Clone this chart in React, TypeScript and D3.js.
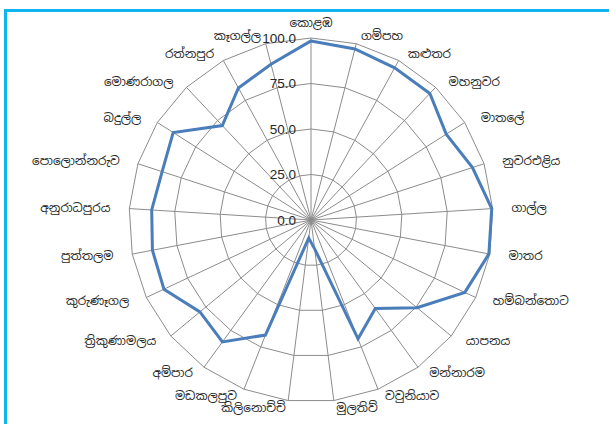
import React from 'react';
import * as d3 from 'd3';

const categories = ['කොළඹ','ගම්පහ','කළුතර','මහනුවර','මාතලේ','නුවරඑළිය','ගාල්ල','මාතර','හම්බන්තොට','යාපනය','මන්නාරම','වවුනියාව','මුලතිව්','කිලිනොච්චි','මඩකලපුව','අම්පාර','ත්‍රිකුණාමලය','කුරුණෑගල','පුත්තලම','අනුරාධපුරය','පොලොන්නරුව','බදුල්ල','මොණරාගල','රත්නපුර','කෑගල්ල'];
const values = [98.4,97,95.4,95.4,88,93.3,99.5,99.5,93.4,75.6,60.1,70.2,16,10,68,82.8,79.2,89.3,88.7,87.7,86,89.7,71.2,82.8,88.4];
const ticks = [0,25,50,75,100];
const tickLabels = ['0.0','25.0','50.0','75.0','100.0'];

const W = 609, H = 424;
const cx = 311, cy = 220, R = 182;

export default function App() {
  const n = categories.length;
  const angle = d3.scaleLinear().domain([0, n]).range([0, 2 * Math.PI]);
  const r = d3.scaleLinear().domain([0, 100]).range([0, R]);

  const ringPath = (v: number) =>
    d3.lineRadial<number>()
      .angle((_, i) => angle(i))
      .radius(() => r(v))
      .curve(d3.curveLinearClosed)(categories.map((_, i) => i)) || '';

  const dataPath = d3.lineRadial<number>()
    .angle((_, i) => angle(i))
    .radius(d => r(d))
    .curve(d3.curveLinearClosed)(values) || '';

  return (
    <svg width={W} height={H} style={{ position: 'absolute', left: 0, top: 0, background: '#fff' }}>
      <rect x={0} y={0} width={W} height={H} fill="#fff" />
      <line x1={4} y1={10.5} x2={W} y2={10.5} stroke="#0fb4f0" strokeWidth={3} />
      <line x1={5.5} y1={9} x2={5.5} y2={H} stroke="#0fb4f0" strokeWidth={3} />
      <g transform={`translate(${cx},${cy})`}>
        {ticks.filter(t => t > 0).map(t => (
          <path key={t} d={ringPath(t)} fill="none" stroke="#8c8c8c" strokeWidth={1} />
        ))}
        {categories.map((_, i) => {
          const a = angle(i);
          return (
            <line key={i} x1={0} y1={0} x2={Math.sin(a) * R} y2={-Math.cos(a) * R}
              stroke="#8c8c8c" strokeWidth={1} />
          );
        })}
        <path d={dataPath} fill="none" stroke="#4a7ebb" strokeWidth={3} strokeLinejoin="miter" />
        {ticks.map((t, i) => (
          <text key={t} x={-15} y={-r(t)} textAnchor="end" dominantBaseline="central"
            fontFamily="'Liberation Sans', Arial, sans-serif" fontSize={13.5} fill="#262626">
            {tickLabels[i]}
          </text>
        ))}
        {categories.map((c, i) => {
          const a = angle(i);
          const s = Math.sin(a), co = Math.cos(a);
          const ex = s * R, ey = -co * R;
          let anchor = 'middle';
          let x = ex, y = ey - co * 7.5;
          if (Math.abs(s) < 0.05) {
            y = ey - co * 15;
          } else {
            anchor = s > 0 ? 'start' : 'end';
            x = ex + s * 19;
          }
          return (
            <text key={c} x={x} y={y} textAnchor={anchor} dominantBaseline="central"
              fontFamily="'Noto Sans Sinhala', 'Noto Sans', sans-serif" fontSize={12} fill="#262626">
              {c}
            </text>
          );
        })}
      </g>
    </svg>
  );
}
